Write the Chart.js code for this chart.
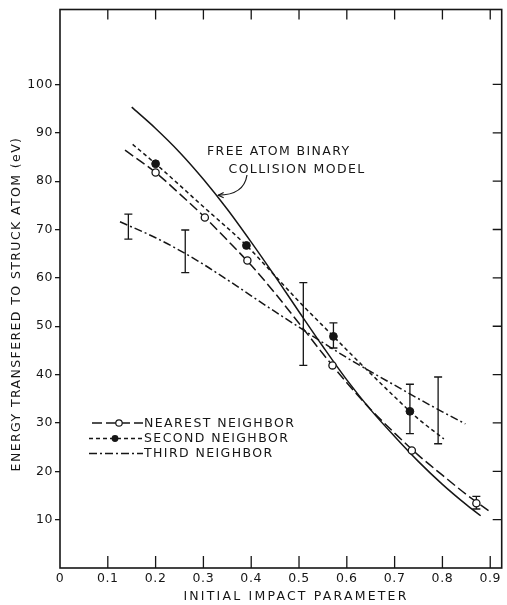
<!DOCTYPE html>
<html lang="en">
<head>
<meta charset="UTF-8">
<title>Energy transfered to struck atom</title>
<script src="https://cdn.jsdelivr.net/npm/chart.js"></script>
<style>
  html, body { margin: 0; padding: 0; background: #fff; }
</style>
</head>
<body>
<canvas id="chart" width="507" height="605"></canvas>
<script>
const xTickValues = [0, 0.1, 0.2, 0.3, 0.4, 0.5, 0.6, 0.7, 0.8, 0.9];
const yTickValues = [10, 20, 30, 40, 50, 60, 70, 80, 90, 100];

// free atom binary collision model (solid curve)
const freeX = [0.15, 0.2, 0.25, 0.3, 0.35, 0.4, 0.45, 0.5, 0.55, 0.6, 0.65, 0.7, 0.75, 0.8, 0.85, 0.88];
const freeY = [95.3, 90.9, 86.0, 80.4, 74.2, 67.4, 60.3, 53.0, 45.8, 38.9, 32.7, 27.2, 22.0, 17.3, 13.1, 10.8];

// nearest neighbor: fitted curve, open circles, error bars [x, low, high]
const nearestLineX = [0.136, 0.2, 0.25, 0.3, 0.35, 0.4, 0.45, 0.5, 0.55, 0.6, 0.65, 0.7, 0.75, 0.8, 0.85, 0.9];
const nearestLineY = [86.4, 81.8, 77.4, 72.8, 67.8, 62.6, 56.8, 50.6, 44.3, 38.3, 32.8, 27.9, 23.3, 19.2, 15.2, 11.6];
const nearestPtX = [0.2, 0.303, 0.392, 0.57, 0.736, 0.871];
const nearestPtY = [81.8, 72.5, 63.6, 41.9, 24.3, 13.4];
const nearestErr = [[0.871, 12.2, 14.8]];

// second neighbor
const secondLineX = [0.152, 0.2, 0.3, 0.39, 0.45, 0.5, 0.572, 0.6, 0.65, 0.7, 0.732, 0.75, 0.803];
const secondLineY = [87.6, 83.6, 74.7, 66.7, 60.4, 55.1, 47.9, 45.1, 40.2, 35.4, 32.4, 30.8, 26.7];
const secondPtX = [0.2, 0.39, 0.572, 0.732];
const secondPtY = [83.6, 66.7, 47.9, 32.4];
const secondErr = [[0.572, 45.5, 50.7], [0.732, 27.8, 38.0]];

// third neighbor (no markers, only error bars)
const thirdLineX = [0.1255, 0.2, 0.25, 0.3, 0.35, 0.4, 0.45, 0.5, 0.55, 0.6, 0.65, 0.7, 0.75, 0.8, 0.848];
const thirdLineY = [71.6, 68.3, 65.7, 62.8, 59.6, 56.3, 53.0, 49.8, 46.6, 43.5, 40.6, 37.8, 35.0, 32.3, 29.8];
const thirdErr = [[0.143, 68.0, 73.2], [0.262, 61.1, 69.9], [0.509, 41.9, 59.0], [0.791, 25.7, 39.5]];

const seriesNames = ['NEAREST NEIGHBOR', 'SECOND NEIGHBOR', 'THIRD NEIGHBOR'];
const modelLabel = ['FREE ATOM BINARY', 'COLLISION MODEL'];
const modelArrowAt = [0.329, 77.1];
const xTitle = 'INITIAL IMPACT PARAMETER';
const yTitle = 'ENERGY TRANSFERED TO STRUCK ATOM (eV)';

const INK = '#161616';
const FONT = '"DejaVu Sans", sans-serif';
const DASH_LONG = [10, 4];
const DASH_SHORT = [4, 3];
const DASH_DOT = [8, 3, 2, 3];

function pts(xs, ys) {
    return xs.map((x, i) => ({ x: x, y: ys[i] }));
}

function curve(data, dash) {
    return {
        data: data,
        showLine: true,
        borderColor: INK,
        borderWidth: 1.5,
        borderDash: dash,
        pointRadius: 0,
        cubicInterpolationMode: 'monotone'
    };
}

const decorations = {
    id: 'decorations',
    beforeDraw(chart) {
        chart.ctx.letterSpacing = '0.6px';
    },
    beforeDatasetsDraw(chart) {
        const ctx = chart.ctx, xs = chart.scales.x, ys = chart.scales.y;
        ctx.save();
        ctx.strokeStyle = INK;
        ctx.lineWidth = 1.3;
        [...nearestErr, ...secondErr, ...thirdErr].forEach(e => {
            const px = xs.getPixelForValue(e[0]);
            const lo = ys.getPixelForValue(e[1]);
            const hi = ys.getPixelForValue(e[2]);
            ctx.beginPath();
            ctx.moveTo(px, lo); ctx.lineTo(px, hi);
            ctx.moveTo(px - 4, lo); ctx.lineTo(px + 4, lo);
            ctx.moveTo(px - 4, hi); ctx.lineTo(px + 4, hi);
            ctx.stroke();
        });
        ctx.restore();
    },
    afterDraw(chart) {
        const ctx = chart.ctx, a = chart.chartArea;
        const xs = chart.scales.x, ys = chart.scales.y;
        ctx.save();
        ctx.strokeStyle = INK;
        ctx.fillStyle = INK;

        // frame
        ctx.lineWidth = 1.6;
        ctx.strokeRect(a.left, a.top, a.right - a.left, a.bottom - a.top);

        // inward ticks: top, bottom, right
        ctx.lineWidth = 1.3;
        ctx.beginPath();
        xTickValues.slice(1).forEach(v => {
            const px = xs.getPixelForValue(v);
            ctx.moveTo(px, a.top); ctx.lineTo(px, a.top + 10);
            ctx.moveTo(px, a.bottom); ctx.lineTo(px, a.bottom - 12);
        });
        yTickValues.forEach(v => {
            const py = ys.getPixelForValue(v);
            ctx.moveTo(a.right, py); ctx.lineTo(a.right - 9, py);
        });
        ctx.stroke();

        // legend
        ctx.font = '12.5px ' + FONT;
        ctx.letterSpacing = '1.4px';
        ctx.textBaseline = 'middle';
        ctx.textAlign = 'left';
        const styles = [DASH_LONG, DASH_SHORT, DASH_DOT];
        const rowY = [423, 438.5, 453.5];
        const x0 = a.left + 29, x1 = a.left + 83, xm = a.left + 57;
        seriesNames.forEach((name, i) => {
            ctx.lineWidth = 1.4;
            ctx.setLineDash(styles[i]);
            ctx.beginPath();
            ctx.moveTo(x0 + (i === 0 ? 3 : 0), rowY[i]);
            ctx.lineTo(x1, rowY[i]);
            ctx.stroke();
            ctx.setLineDash([]);
            if (i === 0) {
                ctx.beginPath();
                ctx.arc(xm + 2, rowY[i], 3.2, 0, Math.PI * 2);
                ctx.fillStyle = '#fff';
                ctx.fill();
                ctx.lineWidth = 1.2;
                ctx.stroke();
                ctx.fillStyle = INK;
            } else if (i === 1) {
                ctx.beginPath();
                ctx.arc(xm - 2, rowY[i], 3.4, 0, Math.PI * 2);
                ctx.fill();
            }
            ctx.fillText(name, x1 + 1, rowY[i] + 0.5);
        });

        // annotation for the model curve
        ctx.fillText(modelLabel[0], 207, 152);
        ctx.fillText(modelLabel[1], 228.5, 169.5);
        const tx = xs.getPixelForValue(modelArrowAt[0]);
        const ty = ys.getPixelForValue(modelArrowAt[1]);
        const cx = 244, cy = 195;
        ctx.lineWidth = 1.2;
        ctx.beginPath();
        ctx.moveTo(247, 175);
        ctx.quadraticCurveTo(cx, cy, tx + 1, ty);
        ctx.stroke();
        const ang = Math.atan2(ty - cy, tx + 1 - cx);
        ctx.beginPath();
        ctx.moveTo(tx + 1 - 6 * Math.cos(ang - 0.45), ty - 6 * Math.sin(ang - 0.45));
        ctx.lineTo(tx + 1, ty);
        ctx.lineTo(tx + 1 - 6 * Math.cos(ang + 0.45), ty - 6 * Math.sin(ang + 0.45));
        ctx.stroke();

        // axis titles
        ctx.textAlign = 'center';
        ctx.letterSpacing = '2.2px';
        ctx.fillText(xTitle, 296, 597);
        ctx.letterSpacing = '1.4px';
        ctx.translate(17, 304);
        ctx.rotate(-Math.PI / 2);
        ctx.fillText(yTitle, 0, 0);
        ctx.restore();
    }
};

new Chart(document.getElementById('chart'), {
    type: 'scatter',
    data: {
        datasets: [
            { data: pts(nearestPtX, nearestPtY), pointRadius: 3.6, pointBackgroundColor: '#fff',
              pointBorderColor: INK, pointBorderWidth: 1.3 },
            { data: pts(secondPtX, secondPtY), pointRadius: 3.9, pointBackgroundColor: INK,
              pointBorderColor: INK, pointBorderWidth: 1 },
            curve(pts(freeX, freeY), []),
            curve(pts(nearestLineX, nearestLineY), DASH_LONG),
            curve(pts(secondLineX, secondLineY), DASH_SHORT),
            curve(pts(thirdLineX, thirdLineY), DASH_DOT)
        ]
    },
    options: {
        responsive: false,
        animation: false,
        layout: { padding: { top: 9, right: 2, left: 0, bottom: 0 } },
        plugins: { legend: { display: false }, tooltip: { enabled: false } },
        scales: {
            x: {
                type: 'linear',
                min: 0,
                max: 0.924,
                afterBuildTicks: s => { s.ticks = xTickValues.map(v => ({ value: v })); },
                afterFit: s => { s.height = 37; },
                ticks: {
                    callback: v => (v === 0 ? '0' : v.toFixed(1)),
                    color: INK,
                    font: { family: FONT, size: 12.5 },
                    padding: 3,
                    maxRotation: 0,
                    autoSkip: false
                },
                grid: { display: false, drawTicks: false },
                border: { display: false }
            },
            y: {
                min: 0,
                max: 115.5,
                afterBuildTicks: s => { s.ticks = yTickValues.map(v => ({ value: v })); },
                afterFit: s => { s.width = 60; },
                ticks: {
                    color: INK,
                    font: { family: FONT, size: 12.5 },
                    padding: 2
                },
                grid: { drawOnChartArea: false, drawTicks: true, tickLength: 5, color: INK, lineWidth: 1.3 },
                border: { display: false }
            }
        }
    },
    plugins: [decorations]
});
</script>
</body>
</html>
